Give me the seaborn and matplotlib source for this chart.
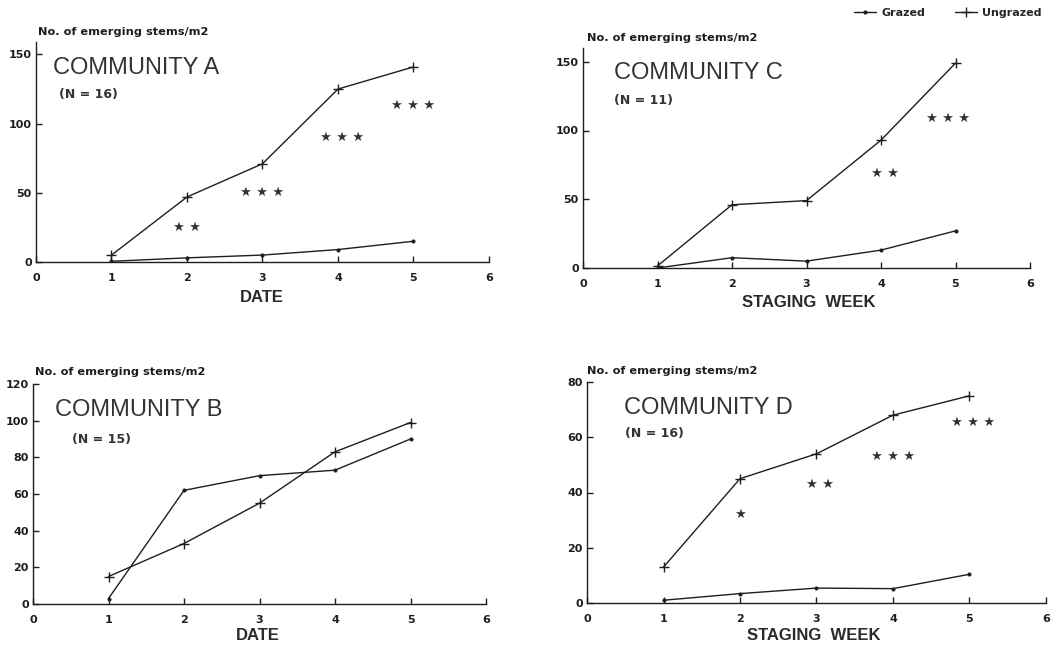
import matplotlib
matplotlib.use("Agg")
import matplotlib.pyplot as plt
from matplotlib.lines import Line2D
import pandas as pd
import seaborn as sns

# Weekly counts of emerging stems per m2, grazed vs ungrazed plots
weeks = [1, 2, 3, 4, 5]

a_grazed = [0.5, 3, 5, 9, 15]
a_ungrazed = [5, 47, 71, 125, 141]

b_grazed = [3, 62, 70, 73, 90]
b_ungrazed = [15, 33, 55, 83, 99]

c_grazed = [0, 7.5, 5, 13, 27]
c_ungrazed = [1.5, 46, 49, 93, 149]

d_grazed = [1, 3.4, 5.4, 5.2, 10.4]
d_ungrazed = [13, 45, 54, 68, 75]

titles = ["COMMUNITY A", "COMMUNITY B", "COMMUNITY C", "COMMUNITY D"]
sample_sizes = ["(N = 16)", "(N = 15)", "(N = 11)", "(N = 16)"]
x_labels = ["DATE", "DATE", "STAGING  WEEK", "STAGING  WEEK"]
y_label = "No. of emerging stems/m2"
treatments = ["Grazed", "Ungrazed"]

y_ticks_a = [0, 50, 100, 150]
y_ticks_b = [0, 20, 40, 60, 80, 100, 120]
y_ticks_c = [0, 50, 100, 150]
y_ticks_d = [0, 20, 40, 60, 80]
x_ticks = [0, 1, 2, 3, 4, 5, 6]

# significance stars: (week, height, count)
stars_a = [(2, 25, 2), (3, 50, 3), (4.05, 90, 3), (5, 113, 3)]
stars_b = []
stars_c = [(4.05, 69, 2), (4.9, 109, 3)]
stars_d = [(2, 32, 1), (3.05, 43, 2), (4.0, 53, 3), (5.05, 65.5, 3)]

sns.set_style("ticks")
plt.rcParams["font.family"] = ["Liberation Sans", "DejaVu Sans"]
INK = "#1e1e1e"
SMALL = "DejaVu Sans"

W, H = 1058, 646
fig = plt.figure(figsize=(W / 100, H / 100), dpi=100)
fig.patch.set_facecolor("white")


def px_axes(left, right, bottom, top):
    return fig.add_axes([left / W, 1 - bottom / H, (right - left) / W, (bottom - top) / H])


panels = [
    dict(box=(36, 489, 262, 42), g=a_grazed, u=a_ungrazed, ylim=159, yt=y_ticks_a,
         stars=stars_a, title=(0.22, 140), n=(0.3, 121), ylab=(38, 32), xlab=(262, 297)),
    dict(box=(33, 486, 604, 384), g=b_grazed, u=b_ungrazed, ylim=120, yt=y_ticks_b,
         stars=stars_b, title=(0.29, 106), n=(0.52, 90), ylab=(35, 372), xlab=(258, 636)),
    dict(box=(583, 1030, 268, 48), g=c_grazed, u=c_ungrazed, ylim=160, yt=y_ticks_c,
         stars=stars_c, title=(0.42, 141.5), n=(0.42, 122), ylab=(587, 38), xlab=(809, 302)),
    dict(box=(587, 1046, 603, 382), g=d_grazed, u=d_ungrazed, ylim=80, yt=y_ticks_d,
         stars=stars_d, title=(0.48, 70.7), n=(0.5, 61.3), ylab=(587, 371), xlab=(814, 636)),
]

for i, p in enumerate(panels):
    ax = px_axes(*p["box"])
    grazed_df = pd.DataFrame({"week": weeks, "stems": p["g"]})
    ungrazed_df = pd.DataFrame({"week": weeks, "stems": p["u"]})
    sns.lineplot(data=grazed_df, x="week", y="stems", color=INK, marker="o",
                 markersize=2.2, markeredgecolor=INK, markerfacecolor=INK,
                 linewidth=1.0, ax=ax)
    sns.lineplot(data=ungrazed_df, x="week", y="stems", color=INK, marker="+",
                 markersize=7, markeredgewidth=1.0, markeredgecolor=INK,
                 linewidth=1.0, ax=ax)
    ax.set_xlim(0, 6)
    ax.set_ylim(0, p["ylim"])
    ax.set_xticks(x_ticks)
    ax.set_yticks(p["yt"])
    ax.set_xlabel("")
    ax.set_ylabel("")
    sns.despine(ax=ax)
    for s in ("left", "bottom"):
        ax.spines[s].set_color(INK)
        ax.spines[s].set_linewidth(1.0)
    ax.tick_params(direction="in", length=4, width=1, colors=INK)
    ax.tick_params(axis="x", pad=8)
    ax.tick_params(axis="y", pad=3)
    for lab in ax.get_xticklabels() + ax.get_yticklabels():
        lab.set_fontweight("bold")
        lab.set_family(SMALL)
        lab.set_fontsize(8)
    ax.set_facecolor("none")

    tx, ty = p["title"]
    ax.text(tx, ty, titles[i], fontsize=17, color="#333333", va="center", ha="left")
    nx, ny = p["n"]
    ax.text(nx, ny, sample_sizes[i], family=SMALL, fontsize=9, fontweight="bold",
            color="#333333", va="center", ha="left")
    for sx, sy, k in p["stars"]:
        ax.text(sx, sy, " ".join(["\u2605"] * k), family="DejaVu Sans", fontsize=9.5,
                color="#333333", ha="center", va="center")

    lx, ly = p["ylab"]
    fig.text(lx / W, 1 - ly / H, y_label, family=SMALL, fontsize=8.2, fontweight="bold",
             color=INK, ha="left", va="center")
    xx, xy = p["xlab"]
    fig.text(xx / W, 1 - xy / H, x_labels[i], fontsize=12, fontweight="bold", color="#2a2a2a",
             ha="center", va="center")

handles = [
    Line2D([], [], color=INK, lw=1.0, marker="o", markersize=2),
    Line2D([], [], color=INK, lw=1.0, marker="+", markersize=7),
]
fig.legend(handles, treatments, loc="upper right", bbox_to_anchor=(1052 / W, 1.003),
           ncol=2, frameon=False, handlelength=2.0, columnspacing=2.6,
           handletextpad=0.5, prop={"weight": "bold", "size": 8, "family": SMALL})

fig.savefig("out.png", dpi=100, facecolor="white")
